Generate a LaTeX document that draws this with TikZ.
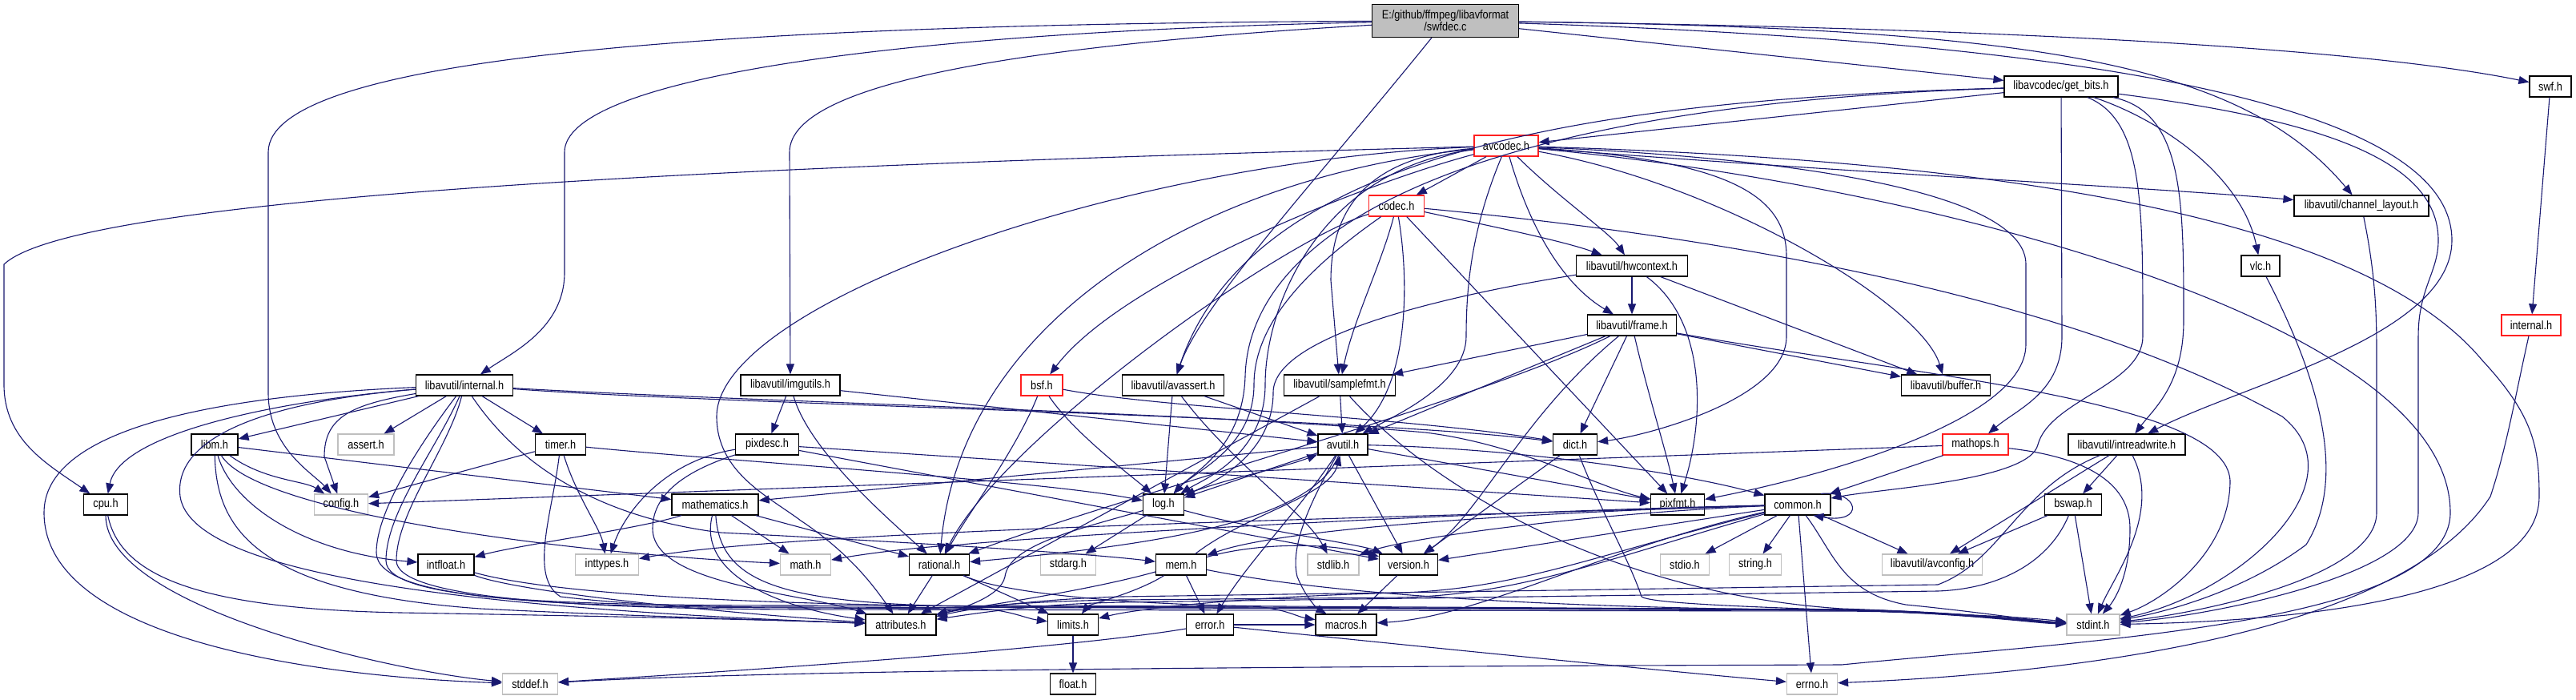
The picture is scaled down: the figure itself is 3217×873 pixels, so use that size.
\documentclass[tikz,border=0pt]{standalone}
\usepackage{fontspec}
\setmainfont{Liberation Sans}[FakeStretch=0.85]
\usetikzlibrary{arrows.meta}
\definecolor{edgec}{HTML}{191970}
\definecolor{grayb}{HTML}{BFBFBF}
\definecolor{redb}{HTML}{FF2020}
\definecolor{rootf}{HTML}{BFBFBF}
\tikzset{
 nb/.style={draw=black, fill=white, line width=1.2pt, inner sep=0pt, minimum height=26pt, font=\fontsize{15}{15}\selectfont, text=black},
 gb/.style={nb, draw=grayb},
 rb/.style={nb, draw=redb},
 edg/.style={draw=edgec, line width=1.1pt, -{Triangle[length=13pt,width=10pt]}}
}
\begin{document}
\begin{tikzpicture}[x=1pt,y=-1pt]
\useasboundingbox (0,0) rectangle (3217,873);
\fill[white] (0,0) rectangle (3217,873);
% nodes
\node[nb, fill=rootf, minimum width=183pt, minimum height=41pt, align=center] (swfdec) at (1805,26) {E:/github/ffmpeg/libavformat\\/swfdec.c};
\node[nb, minimum width=142pt] (getbits) at (2574,108) {libavcodec/get\_bits.h};
\node[nb, minimum width=52pt] (swfh) at (3185,108) {swf.h};
\node[rb, minimum width=80pt] (avcodec) at (1881,182) {avcodec.h};
\node[rb, minimum width=69pt] (codec) at (1744,257) {codec.h};
\node[nb, minimum width=168pt] (chlayout) at (2949,257) {libavutil/channel\_layout.h};
\node[nb, minimum width=139pt] (hwctx) at (2038,332) {libavutil/hwcontext.h};
\node[nb, minimum width=48pt] (vlc) at (2823,332) {vlc.h};
\node[nb, minimum width=111pt] (frame) at (2038,406) {libavutil/frame.h};
\node[rb, minimum width=74pt] (lavfint) at (3161,406) {internal.h};
\node[nb, minimum width=121pt] (lavuint) at (580,481) {libavutil/internal.h};
\node[nb, minimum width=124pt] (imgutils) at (987,481) {libavutil/imgutils.h};
\node[rb, minimum width=52pt] (bsf) at (1301,481) {bsf.h};
\node[nb, minimum width=127pt] (avassert) at (1465,481) {libavutil/avassert.h};
\node[nb, minimum width=139pt] (samplefmt) at (1673,481) {libavutil/samplefmt.h};
\node[nb, minimum width=111pt] (buffer) at (2430,481) {libavutil/buffer.h};
\node[nb, minimum width=58pt] (libm) at (268,555) {libm.h};
\node[gb, minimum width=70pt] (assert) at (457,555) {assert.h};
\node[nb, minimum width=63pt] (timer) at (700,555) {timer.h};
\node[nb, minimum width=79pt] (pixdesc) at (958,555) {pixdesc.h};
\node[nb, minimum width=62pt] (avutil) at (1677,555) {avutil.h};
\node[nb, minimum width=55pt] (dict) at (1967,555) {dict.h};
\node[rb, minimum width=82pt] (mathops) at (2467,555) {mathops.h};
\node[nb, minimum width=146pt] (intrw) at (2656,555) {libavutil/intreadwrite.h};
\node[nb, minimum width=55pt] (cpu) at (132,630) {cpu.h};
\node[gb, minimum width=67pt] (config) at (426,630) {config.h};
\node[nb, minimum width=108pt] (mathematics) at (893,630) {mathematics.h};
\node[nb, minimum width=51pt] (log) at (1453,630) {log.h};
\node[nb, minimum width=67pt] (pixfmt) at (2095,630) {pixfmt.h};
\node[nb, minimum width=82pt] (common) at (2245,630) {common.h};
\node[nb, minimum width=71pt] (bswap) at (2589,630) {bswap.h};
\node[nb, minimum width=70pt] (intfloat) at (557,705) {intfloat.h};
\node[gb, minimum width=79pt] (inttypes) at (758,705) {inttypes.h};
\node[gb, minimum width=63pt] (math) at (1006,705) {math.h};
\node[nb, minimum width=75pt] (rational) at (1173,705) {rational.h};
\node[gb, minimum width=69pt] (stdarg) at (1334,705) {stdarg.h};
\node[nb, minimum width=63pt] (mem) at (1475,705) {mem.h};
\node[gb, minimum width=64pt] (stdlib) at (1665,705) {stdlib.h};
\node[nb, minimum width=73pt] (version) at (1759,705) {version.h};
\node[gb, minimum width=61pt] (stdio) at (2104,705) {stdio.h};
\node[gb, minimum width=65pt] (string) at (2192,705) {string.h};
\node[gb, minimum width=125pt] (avconfig) at (2413,705) {libavutil/avconfig.h};
\node[nb, minimum width=88pt] (attributes) at (1125,780) {attributes.h};
\node[nb, minimum width=63pt] (limits) at (1340,780) {limits.h};
\node[nb, minimum width=59pt] (error) at (1511,780) {error.h};
\node[nb, minimum width=76pt] (macros) at (1681,780) {macros.h};
\node[gb, minimum width=66pt] (stdint) at (2614,780) {stdint.h};
\node[gb, minimum width=69pt] (stddef) at (662,854) {stddef.h};
\node[nb, minimum width=57pt] (float) at (1340,854) {float.h};
\node[gb, minimum width=63pt] (errno) at (2263,854) {errno.h};

% swfdec.c
\draw[edg] (swfdec) .. controls (900,30) and (335,70) .. (335,190) -- (335,490) .. controls (335,560) and (390,590) .. (config);
\draw[edg] (swfdec) .. controls (1100,40) and (705,100) .. (705,190) -- (705,340) .. controls (705,410) and (640,440) .. (lavuint);
\draw[edg] (swfdec) .. controls (1300,55) and (986,100) .. (986,190) -- (imgutils);
\draw[edg] (swfdec) .. controls (1640,230) and (1500,380) .. (avassert);
\draw[edg] (swfdec) -- (getbits);
\draw[edg] (swfdec) .. controls (2500,35) and (2950,60) .. (swfh);
\draw[edg] (swfdec) .. controls (2550,35) and (2800,80) .. (chlayout);
\draw[edg] (swfdec) .. controls (2550,50) and (3062,120) .. (3062,300) .. controls (3062,420) and (2800,480) .. (intrw);

% get_bits.h
\draw[edg] (getbits) -- (avcodec);
\draw[edg] (getbits) .. controls (1950,125) and (1560,200) .. (avassert);
\draw[edg] (getbits) .. controls (1850,130) and (1560,280) .. (1555,470) .. controls (1552,560) and (1490,590) .. (log);
\draw[edg] (getbits) .. controls (2676,150) and (2676,250) .. (2676,420) .. controls (2676,480) and (2560,500) .. (2545,555) .. controls (2535,600) and (2350,610) .. (common);
\draw[edg] (getbits) .. controls (2727,140) and (2727,250) .. (2727,400) .. controls (2727,480) and (2690,510) .. (intrw);
\draw[edg] (getbits) -- (2575,420) .. controls (2575,490) and (2520,510) .. (mathops);
\draw[edg] (getbits) .. controls (2700,150) and (2800,220) .. (vlc);
\draw[edg] (getbits) .. controls (2900,150) and (3045,200) .. (3045,300) .. controls (3045,340) and (3020,360) .. (3020,420) -- (3020,640) .. controls (3020,720) and (2750,770) .. (stdint);

% swf.h / internal.h (lavf)
\draw[edg] (swfh) -- (lavfint);
\draw[edg] (lavfint) .. controls (3140,500) and (3130,560) .. (3110,620) .. controls (3000,790) and (2600,840) .. (errno);

% avcodec.h
\draw[edg] (avcodec) -- (codec);
\draw[edg] (avcodec) .. controls (1700,230) and (1400,350) .. (bsf);
\draw[edg] (avcodec) .. controls (1000,205) and (100,240) .. (5,330) -- (5,480) .. controls (5,550) and (60,580) .. (cpu);
\draw[edg] (avcodec) .. controls (2300,215) and (2700,235) .. (chlayout);
\draw[edg] (avcodec) .. controls (1720,195) and (1662,250) .. (1662,350) -- (samplefmt);
\draw[edg] (avcodec) .. controls (1840,280) and (1831,350) .. (1831,420) .. controls (1831,480) and (1740,520) .. (avutil);
\draw[edg] (avcodec) .. controls (1915,300) and (1960,360) .. (frame);
\draw[edg] (avcodec) .. controls (1950,250) and (2010,290) .. (hwctx);
\draw[edg] (avcodec) .. controls (2150,230) and (2400,380) .. (buffer);
\draw[edg] (avcodec) .. controls (2150,200) and (2231,240) .. (2231,320) -- (2231,420) .. controls (2231,500) and (2050,545) .. (dict);
\draw[edg] (avcodec) .. controls (1650,210) and (1580,380) .. (1580,480) .. controls (1580,570) and (1500,600) .. (log);
\draw[edg] (avcodec) .. controls (2300,200) and (2530,250) .. (2530,330) -- (2530,430) .. controls (2530,530) and (2250,600) .. (pixfmt);
\draw[edg] (avcodec) .. controls (1500,220) and (1200,400) .. (rational);
\draw[edg] (avcodec) .. controls (1400,200) and (895,380) .. (895,520) .. controls (895,590) and (960,620) .. (1000,650) .. controls (1060,690) and (1090,730) .. (attributes);
\draw[edg] (avcodec) .. controls (2500,200) and (2950,270) .. (3100,450) .. controls (3165,520) and (3171,560) .. (3171,620) .. controls (3171,740) and (2900,775) .. (stdint);
\draw[edg] (avcodec) .. controls (2400,230) and (3060,400) .. (3060,640) .. controls (3060,780) and (2600,800) .. (2300,830) .. controls (1700,832) and (1000,835) .. (stddef);

% codec.h
\draw[edg] (codec) .. controls (1850,280) and (1950,300) .. (hwctx);
\draw[edg] (codec) .. controls (1725,330) and (1690,400) .. (samplefmt);
\draw[edg] (codec) .. controls (1760,350) and (1760,480) .. (avutil);
\draw[edg] (codec) -- (pixfmt);
\draw[edg] (codec) .. controls (1600,300) and (1250,550) .. (rational);
\draw[edg] (codec) .. controls (1640,330) and (1566,400) .. (1566,480) .. controls (1566,560) and (1490,590) .. (log);
\draw[edg] (codec) .. controls (2200,300) and (2600,380) .. (2850,520) .. controls (2950,600) and (2800,740) .. (stdint);

% hwcontext.h
\draw[edg] (hwctx) -- (frame);
\draw[edg] (hwctx) .. controls (1800,370) and (1590,420) .. (1590,490) .. controls (1590,570) and (1510,605) .. (log);
\draw[edg] (hwctx) .. controls (2130,400) and (2130,520) .. (pixfmt);
\draw[edg] (hwctx) -- (buffer);

% frame.h
\draw[edg] (frame) -- (samplefmt);
\draw[edg] (frame) -- (avutil);
\draw[edg] (frame) -- (dict);
\draw[edg] (frame) .. controls (1850,500) and (1400,620) .. (rational);
\draw[edg] (frame) .. controls (2060,500) and (2080,560) .. (pixfmt);
\draw[edg] (frame) -- (buffer);
\draw[edg] (frame) .. controls (1900,520) and (1850,640) .. (version);
\draw[edg] (frame) .. controls (2400,470) and (2780,500) .. (2785,600) .. controls (2785,690) and (2700,750) .. (stdint);

% libavutil/internal.h
\draw[edg] (lavuint) -- (libm);
\draw[edg] (lavuint) -- (assert);
\draw[edg] (lavuint) -- (timer);
\draw[edg] (lavuint) .. controls (350,500) and (150,540) .. (cpu);
\draw[edg] (lavuint) .. controls (250,495) and (55,540) .. (55,640) .. controls (55,800) and (400,845) .. (stddef);
\draw[edg] (lavuint) .. controls (440,505) and (405,520) .. (405,570) -- (config);
\draw[edg] (lavuint) .. controls (350,500) and (215,540) .. (225,620) .. controls (240,720) and (600,760) .. (attributes);
\draw[edg] (lavuint) .. controls (520,560) and (470,640) .. (470,690) .. controls (470,750) and (700,758) .. (1000,759) -- (1220,760) .. controls (1260,761) and (1280,772) .. (limits);
\draw[edg] (lavuint) .. controls (545,560) and (482,640) .. (482,700) .. controls (482,750) and (700,756) .. (1000,756) -- (1560,757) .. controls (1600,758) and (1620,770) .. (macros);
\draw[edg] (lavuint) .. controls (560,560) and (495,640) .. (495,700) .. controls (495,745) and (700,760) .. (1000,761) -- (2300,763) .. controls (2450,764) and (2540,775) .. (stdint);
\draw[edg] (lavuint) .. controls (620,540) and (700,640) .. (900,665) .. controls (1100,675) and (1350,690) .. (mem);
\draw[edg] (lavuint) .. controls (900,505) and (1700,520) .. (dict);
\draw[edg] (lavuint) .. controls (900,500) and (1500,515) .. (1780,540) .. controls (1900,555) and (2000,610) .. (pixfmt);

% libm.h
\draw[edg] (libm) .. controls (330,600) and (380,600) .. (config);
\draw[edg] (libm) -- (mathematics);
\draw[edg] (libm) .. controls (320,640) and (700,690) .. (math);
\draw[edg] (libm) .. controls (290,630) and (380,690) .. (intfloat);
\draw[edg] (libm) .. controls (270,660) and (320,740) .. (600,760) .. controls (800,770) and (1000,775) .. (attributes);

% timer.h
\draw[edg] (timer) -- (config);
\draw[edg] (timer) .. controls (720,620) and (750,660) .. (inttypes);
\draw[edg] (timer) .. controls (690,640) and (660,720) .. (700,745) .. controls (800,757) and (900,758) .. (1000,758) -- (2300,761) .. controls (2450,763) and (2540,776) .. (stdint);
\draw[edg] (timer) .. controls (900,575) and (1300,600) .. (log);

% imgutils.h, pixdesc.h
\draw[edg] (imgutils) -- (pixdesc);
\draw[edg] (imgutils) .. controls (1010,560) and (1100,640) .. (rational);
\draw[edg] (imgutils) -- (avutil);
\draw[edg] (pixdesc) .. controls (830,575) and (780,640) .. (inttypes);
\draw[edg] (pixdesc) .. controls (850,590) and (815,620) .. (815,660) .. controls (815,730) and (1000,740) .. (attributes);
\draw[edg] (pixdesc) -- (pixfmt);
\draw[edg] (pixdesc) -- (version);

% bsf.h, avassert.h, samplefmt.h, dict.h
\draw[edg] (bsf) .. controls (1270,560) and (1210,640) .. (rational);
\draw[edg] (bsf) .. controls (1340,540) and (1420,600) .. (log);
\draw[edg] (bsf) .. controls (1450,510) and (1750,520) .. (dict);
\draw[edg] (avassert) -- (log);
\draw[edg] (avassert) -- (avutil);
\draw[edg] (avassert) .. controls (1540,580) and (1630,640) .. (stdlib);
\draw[edg] (samplefmt) -- (avutil);
\draw[edg] (samplefmt) -- (attributes);
\draw[edg] (samplefmt) .. controls (1780,600) and (2000,740) .. (2300,760) .. controls (2450,765) and (2540,775) .. (stdint);
\draw[edg] (dict) -- (version);
\draw[edg] (dict) .. controls (2000,640) and (2035,700) .. (2050,745) .. controls (2070,760) and (2450,762) .. (stdint);

% avutil.h
\draw[edg] (avutil) .. controls (1900,560) and (2100,590) .. (common);
\draw[edg] (avutil) .. controls (1620,640) and (1560,700) .. (error);
\draw[edg] (avutil) .. controls (1640,650) and (1450,680) .. (rational);
\draw[edg] (avutil) -- (version);
\draw[edg] (avutil) .. controls (1640,620) and (1610,680) .. (1620,720) .. controls (1630,745) and (1645,760) .. (macros);
\draw[edg] (avutil) -- (mathematics);
\draw[edg] (avutil) -- (log);
\draw[edg] (avutil) -- (pixfmt);
\draw[edg] (log) .. controls (1520,600) and (1600,585) .. (avutil);
\draw[edg] (mem) .. controls (1560,640) and (1660,620) .. (avutil);

% mathops.h, intreadwrite.h, bswap.h, vlc.h, channel_layout.h
\draw[edg] (mathops) -- (config);
\draw[edg] (mathops) -- (common);
\draw[edg] (mathops) .. controls (2600,570) and (2660,600) .. (2660,660) .. controls (2660,720) and (2640,750) .. (stdint);
\draw[edg] (intrw) -- (bswap);
\draw[edg] (intrw) -- (avconfig);
\draw[edg] (intrw) .. controls (2700,640) and (2640,720) .. (stdint);
\draw[edg] (intrw) .. controls (2520,610) and (2500,700) .. (2420,730) -- (1400,745) .. controls (1300,748) and (1220,758) .. (attributes);
\draw[edg] (bswap) -- (avconfig);
\draw[edg] (bswap) -- (stdint);
\draw[edg] (bswap) .. controls (2560,700) and (2500,735) .. (2420,738) -- (1400,752) .. controls (1300,754) and (1230,764) .. (attributes);
\draw[edg] (vlc) .. controls (2900,480) and (2930,600) .. (2880,680) .. controls (2800,740) and (2700,765) .. (stdint);
\draw[edg] (chlayout) .. controls (2968,350) and (2968,400) .. (2968,450) -- (2968,640) .. controls (2968,720) and (2750,765) .. (stdint);

% common.h
\draw[edg] (common.25) .. controls (2322,612) and (2330,655) .. (common.-35);
\draw[edg] (common) -- (stdio);
\draw[edg] (common) -- (string);
\draw[edg] (common) -- (errno);
\draw[edg] (common) -- (avconfig);
\draw[edg] (common) .. controls (2290,690) and (2300,740) .. (2380,755) .. controls (2480,765) and (2540,775) .. (stdint);
\draw[edg] (common) -- (version);
\draw[edg] (common) .. controls (2000,640) and (1760,670) .. (stdlib);
\draw[edg] (common) .. controls (1800,640) and (1300,670) .. (1200,680) .. controls (1120,685) and (1060,695) .. (math);
\draw[edg] (common) .. controls (1800,645) and (1000,660) .. (inttypes);
\draw[edg] (common) .. controls (2000,690) and (1900,735) .. (1750,740) .. controls (1550,745) and (1420,760) .. (limits);
\draw[edg] (common) .. controls (2000,685) and (1850,770) .. (macros);
\draw[edg] (common) .. controls (1900,640) and (1600,660) .. (mem);
\draw[edg] (common) .. controls (2000,700) and (1900,742) .. (1750,746) -- (1400,749) .. controls (1300,750) and (1200,758) .. (attributes);

% mathematics.h
\draw[edg] (mathematics) .. controls (800,660) and (650,680) .. (intfloat);
\draw[edg] (mathematics) .. controls (870,720) and (980,760) .. (attributes);
\draw[edg] (mathematics) .. controls (900,740) and (1000,758) .. (1300,758) -- (2300,762) .. controls (2450,765) and (2540,777) .. (stdint);
\draw[edg] (mathematics) -- (math);
\draw[edg] (mathematics) -- (rational);

% log.h, mem.h, rational.h, error.h, version.h, intfloat.h, limits.h, cpu.h
\draw[edg] (log) -- (stdarg);
\draw[edg] (log) .. controls (1350,660) and (1260,680) .. (1255,720) .. controls (1250,745) and (1200,760) .. (attributes);
\draw[edg] (log) .. controls (1560,660) and (1700,680) .. (version);
\draw[edg] (mem) .. controls (1420,740) and (1360,755) .. (limits);
\draw[edg] (mem) .. controls (1350,740) and (1200,760) .. (attributes);
\draw[edg] (mem) -- (error);
\draw[edg] (mem) .. controls (1600,730) and (1800,758) .. (2300,762) .. controls (2450,765) and (2540,778) .. (stdint);
\draw[edg] (mem) .. controls (1560,680) and (1650,675) .. (version);
\draw[edg] (rational) -- (attributes);
\draw[edg] (rational) -- (limits);
\draw[edg] (rational) .. controls (1250,740) and (1400,756) .. (1600,757) -- (2300,761) .. controls (2450,764) and (2540,776) .. (stdint);
\draw[edg] (error) .. controls (1300,815) and (800,845) .. (stddef);
\draw[edg] (error) .. controls (1700,800) and (2100,840) .. (errno);
\draw[edg] (error) -- (macros);
\draw[edg] (version) -- (macros);
\draw[edg] (intfloat) .. controls (650,740) and (900,765) .. (attributes);
\draw[edg] (intfloat) .. controls (700,745) and (1000,757) .. (1300,757) -- (2300,761) .. controls (2450,764) and (2540,776) .. (stdint);
\draw[edg] (limits) -- (float);
\draw[edg] (cpu) .. controls (132,760) and (500,840) .. (stddef);
\draw[edg] (cpu) .. controls (150,720) and (250,760) .. (500,765) .. controls (800,770) and (1000,775) .. (attributes);
\end{tikzpicture}
\end{document}
